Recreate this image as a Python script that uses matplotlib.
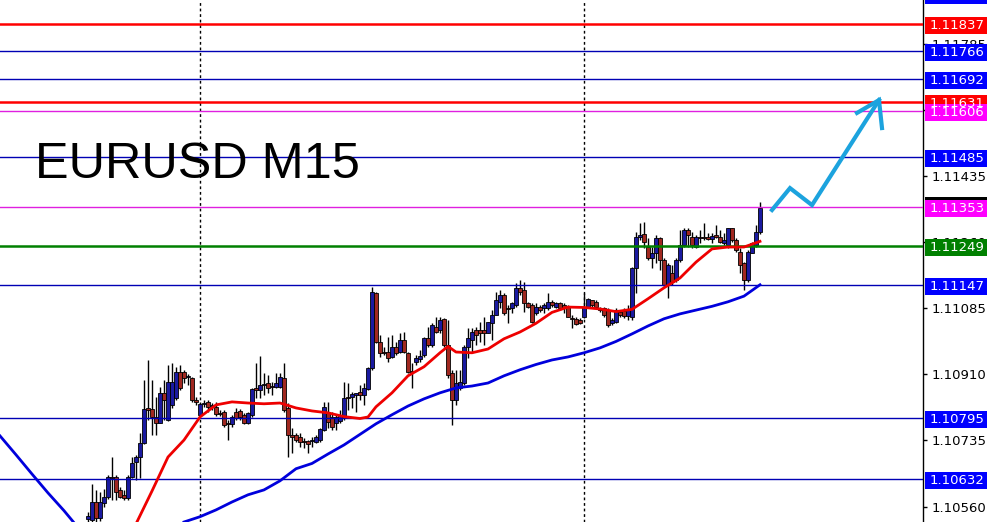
import matplotlib
matplotlib.use("Agg")
import matplotlib.pyplot as plt
import numpy as np
from matplotlib.patches import Rectangle

# EURUSD M15 candles (oldest -> newest), one per bar
OPEN = [
    1.10527, 1.10525, 1.10572, 1.10530, 1.10570, 1.10585, 1.10638, 1.10638, 1.10604, 1.10591,
    1.10583, 1.10638, 1.10678, 1.10691, 1.10728, 1.10821, 1.10818, 1.10797, 1.10781, 1.10861,
    1.10789, 1.10829, 1.10847, 1.10916, 1.10916, 1.10903, 1.10900, 1.10842, 1.10802, 1.10832,
    1.10837, 1.10826, 1.10824, 1.10808, 1.10810, 1.10781, 1.10779, 1.10810, 1.10813, 1.10802,
    1.10781, 1.10802, 1.10874, 1.10869, 1.10882, 1.10887, 1.10879, 1.10877, 1.10877, 1.10900,
    1.10821, 1.10750, 1.10750, 1.10744, 1.10734, 1.10734, 1.10734, 1.10731, 1.10736, 1.10763,
    1.10810, 1.10797, 1.10781, 1.10787, 1.10797, 1.10850, 1.10850, 1.10855, 1.10863, 1.10855,
    1.10871, 1.10927, 1.11125, 1.10996, 1.10969, 1.10969, 1.10956, 1.10982, 1.10969, 1.11001,
    1.10967, 1.10919, 1.10943, 1.10951, 1.10961, 1.11006, 1.10988, 1.11035, 1.11027, 1.11057,
    1.10988, 1.10914, 1.10842, 1.10874, 1.10887, 1.10982, 1.11001, 1.11027, 1.11027, 1.11027,
    1.11020, 1.11046, 1.11067, 1.11102, 1.11120, 1.11086, 1.11086, 1.11094, 1.11139, 1.11133,
    1.11099, 1.11094, 1.11072, 1.11088, 1.11086, 1.11086, 1.11102, 1.11088, 1.11099, 1.11094,
    1.11088, 1.11059, 1.11057, 1.11054, 1.11062, 1.11088, 1.11107, 1.11102, 1.11086, 1.11086,
    1.11080, 1.11046, 1.11049, 1.11075, 1.11078, 1.11065, 1.11062, 1.11192, 1.11274, 1.11282,
    1.11247, 1.11218, 1.11231, 1.11271, 1.11213, 1.11147, 1.11178, 1.11160, 1.11213, 1.11252,
    1.11292, 1.11274, 1.11247, 1.11274, 1.11274, 1.11274, 1.11268, 1.11279, 1.11274, 1.11258,
    1.11252, 1.11297, 1.11266, 1.11234, 1.11205, 1.11160, 1.11231, 1.11252, 1.11287,
]
HIGH = [
    1.10546, 1.10620, 1.10604, 1.10599, 1.10607, 1.10644, 1.10691, 1.10644, 1.10612, 1.10604,
    1.10644, 1.10691, 1.10697, 1.10755, 1.10895, 1.10948, 1.10895, 1.10850, 1.10877, 1.10895,
    1.10935, 1.10940, 1.10930, 1.10935, 1.10922, 1.10911, 1.10903, 1.10850, 1.10837, 1.10842,
    1.10842, 1.10834, 1.10837, 1.10816, 1.10816, 1.10789, 1.10802, 1.10821, 1.10818, 1.10808,
    1.10810, 1.10874, 1.10940, 1.10959, 1.10914, 1.10908, 1.10890, 1.10914, 1.10914, 1.10940,
    1.10834, 1.10768, 1.10755, 1.10755, 1.10742, 1.10736, 1.10744, 1.10750, 1.10768, 1.10837,
    1.10837, 1.10810, 1.10802, 1.10816, 1.10890, 1.10887, 1.10863, 1.10861, 1.10882, 1.10887,
    1.10930, 1.11141, 1.11128, 1.11014, 1.10982, 1.11009, 1.11014, 1.10996, 1.11020, 1.11022,
    1.10969, 1.10940, 1.10961, 1.10975, 1.11009, 1.11035, 1.11046, 1.11062, 1.11062, 1.11059,
    1.11054, 1.10922, 1.10922, 1.10922, 1.10988, 1.11033, 1.11033, 1.11035, 1.11049, 1.11062,
    1.11049, 1.11080, 1.11128, 1.11133, 1.11125, 1.11094, 1.11102, 1.11152, 1.11160, 1.11155,
    1.11102, 1.11099, 1.11099, 1.11094, 1.11099, 1.11125, 1.11107, 1.11102, 1.11102, 1.11099,
    1.11094, 1.11067, 1.11062, 1.11059, 1.11125, 1.11112, 1.11107, 1.11107, 1.11088, 1.11088,
    1.11086, 1.11059, 1.11086, 1.11080, 1.11086, 1.11094, 1.11194, 1.11287, 1.11311, 1.11313,
    1.11271, 1.11247, 1.11279, 1.11274, 1.11218, 1.11205, 1.11199, 1.11218, 1.11292, 1.11297,
    1.11297, 1.11287, 1.11279, 1.11292, 1.11311, 1.11284, 1.11284, 1.11305, 1.11292, 1.11284,
    1.11297, 1.11297, 1.11271, 1.11245, 1.11207, 1.11239, 1.11260, 1.11305, 1.11366,
]
LOW = [
    1.10514, 1.10517, 1.10519, 1.10522, 1.10559, 1.10580, 1.10578, 1.10578, 1.10583, 1.10578,
    1.10578, 1.10636, 1.10630, 1.10636, 1.10726, 1.10789, 1.10750, 1.10750, 1.10781, 1.10789,
    1.10787, 1.10821, 1.10842, 1.10869, 1.10887, 1.10882, 1.10837, 1.10829, 1.10800, 1.10824,
    1.10810, 1.10816, 1.10800, 1.10800, 1.10771, 1.10736, 1.10771, 1.10789, 1.10789, 1.10779,
    1.10779, 1.10797, 1.10847, 1.10847, 1.10855, 1.10861, 1.10855, 1.10874, 1.10874, 1.10810,
    1.10691, 1.10702, 1.10731, 1.10718, 1.10715, 1.10702, 1.10718, 1.10728, 1.10731, 1.10760,
    1.10768, 1.10763, 1.10763, 1.10781, 1.10789, 1.10816, 1.10821, 1.10810, 1.10842, 1.10829,
    1.10869, 1.10922, 1.10993, 1.10956, 1.10961, 1.10943, 1.10953, 1.10961, 1.10967, 1.10967,
    1.10914, 1.10874, 1.10935, 1.10943, 1.10956, 1.10982, 1.10982, 1.11020, 1.11020, 1.10982,
    1.10900, 1.10776, 1.10829, 1.10869, 1.10882, 1.10953, 1.10967, 1.10988, 1.10996, 1.10988,
    1.11020, 1.11001, 1.11067, 1.11086, 1.11067, 1.11046, 1.11072, 1.11088, 1.11120, 1.11075,
    1.11086, 1.11046, 1.11067, 1.11075, 1.11072, 1.11080, 1.11088, 1.11086, 1.11080, 1.11072,
    1.11062, 1.11033, 1.11041, 1.11043, 1.11059, 1.11086, 1.11088, 1.11086, 1.11075, 1.11062,
    1.11035, 1.11041, 1.11046, 1.11062, 1.11059, 1.11054, 1.11054, 1.11125, 1.11266, 1.11245,
    1.11213, 1.11192, 1.11205, 1.11186, 1.11141, 1.11112, 1.11147, 1.11155, 1.11207, 1.11247,
    1.11247, 1.11245, 1.11245, 1.11258, 1.11266, 1.11266, 1.11258, 1.11271, 1.11258, 1.11252,
    1.11245, 1.11260, 1.11234, 1.11178, 1.11133, 1.11155, 1.11231, 1.11247, 1.11282,
]
CLOSE = [
    1.10535, 1.10572, 1.10530, 1.10572, 1.10585, 1.10638, 1.10636, 1.10599, 1.10585, 1.10583,
    1.10638, 1.10675, 1.10691, 1.10728, 1.10818, 1.10816, 1.10797, 1.10781, 1.10861, 1.10842,
    1.10890, 1.10890, 1.10916, 1.10874, 1.10900, 1.10906, 1.10842, 1.10837, 1.10832, 1.10834,
    1.10824, 1.10829, 1.10805, 1.10805, 1.10776, 1.10779, 1.10797, 1.10795, 1.10797, 1.10781,
    1.10808, 1.10871, 1.10869, 1.10882, 1.10885, 1.10874, 1.10877, 1.10887, 1.10903, 1.10816,
    1.10750, 1.10744, 1.10736, 1.10731, 1.10731, 1.10726, 1.10736, 1.10744, 1.10765, 1.10824,
    1.10784, 1.10771, 1.10797, 1.10802, 1.10847, 1.10847, 1.10858, 1.10861, 1.10855, 1.10874,
    1.10927, 1.11128, 1.10996, 1.10967, 1.10967, 1.10953, 1.10982, 1.10967, 1.11001, 1.10969,
    1.10916, 1.10916, 1.10953, 1.10959, 1.11006, 1.10988, 1.11041, 1.11022, 1.11054, 1.10988,
    1.10908, 1.10842, 1.10887, 1.10890, 1.10982, 1.11006, 1.11022, 1.11014, 1.11020, 1.11020,
    1.11049, 1.11067, 1.11107, 1.11120, 1.11072, 1.11083, 1.11099, 1.11139, 1.11128, 1.11099,
    1.11088, 1.11049, 1.11088, 1.11080, 1.11094, 1.11102, 1.11094, 1.11099, 1.11086, 1.11086,
    1.11062, 1.11057, 1.11043, 1.11046, 1.11088, 1.11110, 1.11094, 1.11088, 1.11080, 1.11067,
    1.11041, 1.11054, 1.11080, 1.11067, 1.11065, 1.11080, 1.11192, 1.11274, 1.11279, 1.11260,
    1.11218, 1.11231, 1.11271, 1.11213, 1.11147, 1.11199, 1.11155, 1.11213, 1.11252, 1.11292,
    1.11279, 1.11252, 1.11274, 1.11271, 1.11271, 1.11268, 1.11276, 1.11274, 1.11260, 1.11266,
    1.11297, 1.11266, 1.11239, 1.11199, 1.11160, 1.11234, 1.11258, 1.11287, 1.11350,
]

# moving averages (bar index -> price)
FAST_MA_IDX = [12, 16, 20, 24, 28, 32, 36, 40, 44, 48, 52, 56, 60, 64, 68, 70, 72, 76, 80, 84,
               88, 90, 92, 96, 100, 104, 108, 112, 116, 120, 124, 128, 132, 136, 140, 144, 148,
               152, 156, 160, 164, 168]
FAST_MA = [1.10514, 1.10601, 1.10691, 1.10736, 1.10797, 1.10829, 1.10837, 1.10834, 1.10832, 1.10834,
           1.10821, 1.10813, 1.10808, 1.10798, 1.10793, 1.10797, 1.10824, 1.10861, 1.10906, 1.10930,
           1.10967, 1.10984, 1.10969, 1.10967, 1.10977, 1.11004, 1.11022, 1.11045, 1.11074, 1.11088,
           1.11087, 1.11083, 1.11076, 1.11082, 1.11110, 1.11139, 1.11165, 1.11207, 1.11242, 1.11247,
           1.11247, 1.11262]
SLOW_MA_IDX_A = [-22, -18, -14, -10, -6, -2]
SLOW_MA_A = [1.10747, 1.10697, 1.10646, 1.10596, 1.10549, 1.10498]
SLOW_MA_IDX_B = list(range(24, 169, 4))
SLOW_MA_B = [1.10519, 1.10533, 1.10551, 1.10572, 1.10591, 1.10604, 1.10628, 1.10660, 1.10674, 1.10699,
             1.10723, 1.10751, 1.10779, 1.10803, 1.10826, 1.10845, 1.10861, 1.10874, 1.10879, 1.10887,
             1.10906, 1.10922, 1.10936, 1.10948, 1.10956, 1.10967, 1.10980, 1.10997, 1.11017, 1.11038,
             1.11057, 1.11070, 1.11080, 1.11090, 1.11102, 1.11117, 1.11147]

# horizontal levels: price and kind (line colour / width / label colour)
LEVELS = [1.11917, 1.11837, 1.11766, 1.11692, 1.11631, 1.11606, 1.11485, 1.11353, 1.11249,
          1.11147, 1.10795, 1.10632]
LEVEL_KIND = ["blue", "red", "blue", "blue", "red", "magenta", "blue", "magenta", "green",
              "blue", "blue", "blue"]
TICKS = [1.11785, 1.11610, 1.11435, 1.11260, 1.11085, 1.10910, 1.10735, 1.10560]
DAY_BREAKS = [28, 124]
LAST_PRICE = 1.11362

ARROW_X = [171, 175.5, 181, 197.75]
ARROW_Y = [1.11345, 1.11403, 1.11358, 1.11636]
ARROW_HEAD_X = [192.25, 197.75, 198.5]
ARROW_HEAD_Y = [1.11602, 1.11636, 1.11562]

STYLE = {
    "blue": ("#0000b4", 1.0, "#0000ff"),
    "red": ("#ff0000", 1.8, "#ff0000"),
    "magenta": ("#e020e0", 1.0, "#ff00ff"),
    "green": ("#008000", 1.8, "#008000"),
}
BULL, BEAR = "#1a1aa0", "#a02820"

W, H = 996, 522
YMIN, YMAX = 1.10519, 1.11901
fig = plt.figure(figsize=(W / 100, H / 100), dpi=100)
ax = fig.add_axes([0, 0, 923 / W, 1])
ppx = (YMAX - YMIN) / H          # price per pixel

for d in DAY_BREAKS:
    ax.axvline(d, color="black", lw=1, ls=(0, (2, 2)), zorder=1)

o, h, l, c = (np.array(a) for a in (OPEN, HIGH, LOW, CLOSE))
x = np.arange(len(o))
ax.vlines(x, l, h, color="black", lw=1, zorder=3)
body = np.maximum(np.abs(c - o), 0.5 * ppx)
ax.bar(x, body, bottom=np.minimum(o, c), width=0.8,
       color=[BULL if up else BEAR for up in c >= o],
       edgecolor="black", linewidth=0.6, zorder=4)

for v, k in zip(LEVELS, LEVEL_KIND):
    col, lw, _ = STYLE[k]
    ax.axhline(v, color=col, lw=lw, zorder=5)

ax.plot(SLOW_MA_IDX_A, SLOW_MA_A, color="#0000dc", lw=2, zorder=6)
ax.plot(SLOW_MA_IDX_B, SLOW_MA_B, color="#0000dc", lw=2, zorder=6)
ax.plot(FAST_MA_IDX, FAST_MA, color="#ee0000", lw=2, zorder=7)

ax.plot(ARROW_X, ARROW_Y, color="#1ca3de", lw=3, solid_joinstyle="miter", zorder=8)
ax.plot(ARROW_HEAD_X, ARROW_HEAD_Y, color="#1ca3de", lw=3, solid_joinstyle="miter", zorder=8)

# price scale on the right
ax.yaxis.tick_right()
ax.set_yticks(TICKS)
ax.set_yticklabels([f"{t:.5f}" for t in TICKS])
ax.tick_params(axis="y", length=3, width=1, pad=3.5, labelsize=9.5, colors="black")
ax.set_xticks([])
ax.set_xlim(-22, 208.75)
ax.set_ylim(YMIN, YMAX)
for s in ("left", "top", "bottom"):
    ax.spines[s].set_visible(False)
ax.spines["right"].set_linewidth(1)

trans = ax.get_yaxis_transform()
bx, bw = 925 / 923, 62 / 923


def price_label(v, face, text=True, z=10):
    yc = v - 1.5 * ppx
    ax.add_patch(Rectangle((bx, yc - 8.5 * ppx), bw, 17 * ppx, transform=trans,
                           facecolor=face, edgecolor="none", clip_on=False, zorder=z))
    if text:
        ax.text(930 / 923, yc, f"{v:.5f}", transform=trans, color="white", fontsize=9.5,
                va="center", ha="left", clip_on=False, zorder=z + 1)


price_label(LAST_PRICE, "black", text=False, z=9)
for v, k in zip(LEVELS, LEVEL_KIND):
    price_label(v, STYLE[k][2])

fig.text(35 / W, 1 - 178 / H, "EURUSD M15", fontsize=36.3, family="Liberation Sans",
         va="baseline", ha="left", color="black")

fig.savefig("out.png", dpi=100, facecolor="white")
